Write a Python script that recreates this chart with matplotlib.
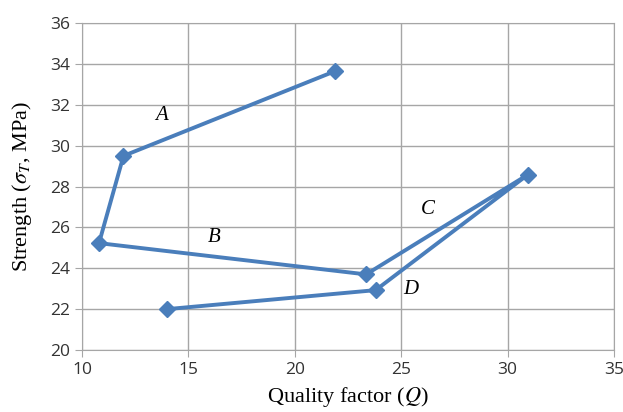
import matplotlib
matplotlib.use('Agg')
import matplotlib.pyplot as plt

plt.rcParams['mathtext.fontset'] = 'stix'

# path of the curve, in drawing order
quality = [21.9, 11.95, 10.8, 23.35, 30.95, 23.8, 14.0]
strength = [33.65, 29.5, 25.23, 23.7, 28.58, 22.93, 22.0]

seg_labels = ['A', 'B', 'C', 'D']
label_x = [13.75, 16.2, 26.25, 25.45]
label_y = [31.5, 25.5, 26.9, 22.95]

fig = plt.figure(figsize=(6.23, 4.12), dpi=100)
ax = fig.add_axes([0.1316, 0.1505, 0.854, 0.7935])

ax.plot(quality, strength, color='#4A7EBB', lw=2.8, marker='D', ms=8.5,
        zorder=3, solid_joinstyle='miter')

for s, x, y in zip(seg_labels, label_x, label_y):
    ax.text(x, y, s, fontsize=15, family='Liberation Serif', style='italic',
            ha='center', va='center')

ax.set_xlim(10, 35)
ax.set_ylim(20, 36)
ax.set_xticks(range(10, 36, 5))
ax.set_yticks(range(20, 37, 2))
ax.grid(True, color='#a6a6a6', lw=1)
ax.set_axisbelow(True)
for sp in ax.spines.values():
    sp.set_color('#a6a6a6')
ax.tick_params(colors='#a6a6a6', labelcolor='#333333', length=5, labelsize=12.5)
for lab in ax.get_xticklabels() + ax.get_yticklabels():
    lab.set_family('Open Sans')

ax.set_xlabel(r'Quality factor ($Q$)', fontsize=16, family='Liberation Serif', labelpad=5)
ax.set_ylabel(r'Strength ($\sigma_T$, MPa)', fontsize=16, family='Liberation Serif', labelpad=12)

fig.savefig('out.png', dpi=100)
